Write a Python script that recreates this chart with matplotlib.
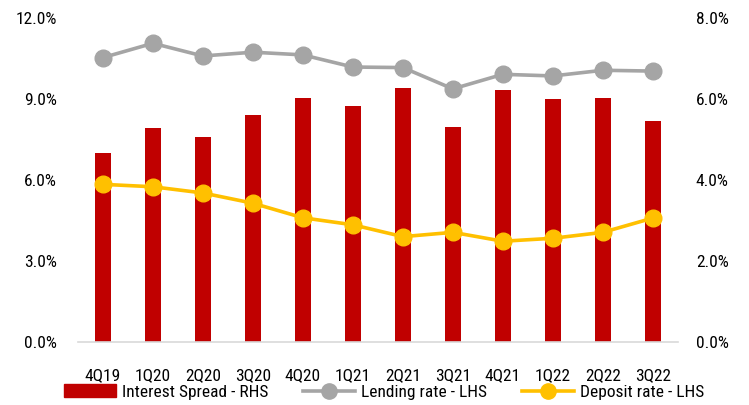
import numpy as np
import matplotlib
matplotlib.use("Agg")
import matplotlib.pyplot as plt
from matplotlib.ticker import FuncFormatter
from matplotlib.patches import Patch
from matplotlib.lines import Line2D

quarters = ["4Q19", "1Q20", "2Q20", "3Q20", "4Q20", "1Q21",
            "2Q21", "3Q21", "4Q21", "1Q22", "2Q22", "3Q22"]
spread = [4.68, 5.29, 5.07, 5.60, 6.03, 5.84, 6.27, 5.31, 6.22, 6.00, 6.02, 5.46]
lending = [10.54, 11.07, 10.60, 10.74, 10.64, 10.19, 10.17, 9.38, 9.92, 9.86, 10.07, 10.04]
deposit = [5.84, 5.75, 5.52, 5.14, 4.60, 4.34, 3.90, 4.06, 3.73, 3.84, 4.06, 4.59]

plt.rcParams['font.family'] = ['Roboto Condensed', 'Archivo Narrow', 'DejaVu Sans']
plt.rcParams['font.size'] = 12.5

red = "#C00000"
grey = "#A5A5A5"
gold = "#FFC000"

fig = plt.figure(figsize=(7.49, 4.05), dpi=100)
ax = fig.add_axes([0.104, 0.156, 0.801, 0.799])
ax2 = ax.twinx()

x = np.arange(len(quarters))
ax2.bar(x, spread, width=0.31, color=red)
ax.plot(x, lending, color=grey, lw=2.6, marker='o', ms=12)
ax.plot(x, deposit, color=gold, lw=2.6, marker='o', ms=12)

# lines on top of the bars
ax.set_zorder(ax2.get_zorder() + 1)
ax.patch.set_visible(False)

ax.set_xlim(-0.5, len(quarters) - 0.5)
ax.set_ylim(0, 12)
ax.set_yticks([0, 3, 6, 9, 12])
ax2.set_ylim(0, 8)
ax2.set_yticks([0, 2, 4, 6, 8])
pct = FuncFormatter(lambda v, _: f"{v:.1f}%")
ax.yaxis.set_major_formatter(pct)
ax2.yaxis.set_major_formatter(pct)
ax.set_xticks(x)
ax.set_xticklabels(quarters)

for a in (ax, ax2):
    for s in a.spines.values():
        s.set_visible(False)
    a.tick_params(length=0)
ax2.spines['bottom'].set_visible(True)
ax2.spines['bottom'].set_color("#D9D9D9")
ax2.spines['bottom'].set_linewidth(1.2)
ax.tick_params(axis='x', pad=19)
ax.tick_params(axis='y', pad=15)
ax2.tick_params(axis='y', pad=13)

handles = [
    Patch(color=red, label="Interest Spread - RHS"),
    Line2D([], [], color=grey, lw=2.6, marker='o', ms=11, label="Lending rate - LHS"),
    Line2D([], [], color=gold, lw=2.6, marker='o', ms=11, label="Deposit rate - LHS"),
]
fig.legend(handles=handles, loc='center', bbox_to_anchor=(0.513, 0.032), ncol=3,
           frameon=False, handlelength=3.0, handletextpad=0.35, columnspacing=2.0)

fig.savefig("out.png", dpi=100)
